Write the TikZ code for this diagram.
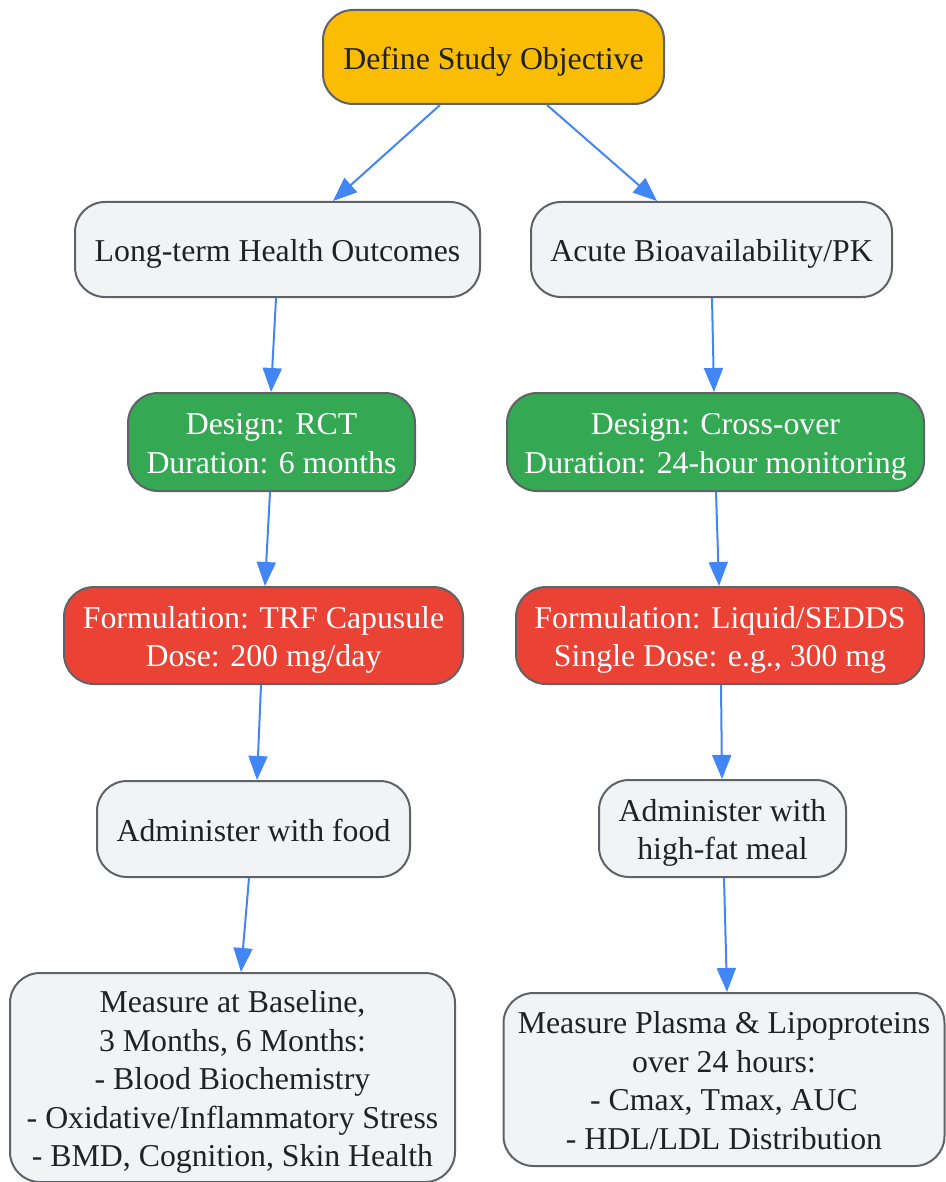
\documentclass[tikz,border=0pt]{standalone}
\usepackage{fontspec}
\setmainfont{Liberation Serif}
\usetikzlibrary{arrows.meta}
\definecolor{gold}{HTML}{FBBC04}
\definecolor{ggreen}{HTML}{34A853}
\definecolor{gred}{HTML}{EA4335}
\definecolor{glight}{HTML}{F1F3F4}
\definecolor{gborder}{HTML}{5F6368}
\definecolor{gblue}{HTML}{4285F4}
\definecolor{gtext}{HTML}{202124}
\newcommand{\boxtext}[1]{\raisebox{-4.5pt}[\height][\depth]{\begin{tabular}{@{}c@{}}#1\end{tabular}}}
\tikzset{
  box/.style={draw=gborder, line width=2pt, rounded corners=30pt, inner sep=0pt,
    align=center, text=gtext, font=\fontsize{31.8pt}{38.5pt}\selectfont},
  lightbox/.style={box, fill=glight},
  goldbox/.style={box, fill=gold},
  greenbox/.style={box, fill=ggreen, text=white},
  redbox/.style={box, fill=gred, text=white},
  arr/.style={draw=gblue, line width=2pt, -{Triangle[length=24pt,width=19pt]}}
}
\begin{document}
\begin{tikzpicture}[x=1pt,y=-1pt]
\useasboundingbox (0,0) rectangle (945,1182);
\node[goldbox, minimum width=341pt, minimum height=94pt] (define) at (493.5,57) {\boxtext{Define Study Objective}};
\node[lightbox, minimum width=405pt, minimum height=95pt] (long) at (277.5,249.5) {\boxtext{Long-term Health Outcomes}};
\node[lightbox, minimum width=361pt, minimum height=95pt] (acute) at (711.5,249.5) {\boxtext{Acute Bioavailability/PK}};
\node[greenbox, minimum width=287pt, minimum height=98pt] (rct) at (271.5,442) {\boxtext{Design: RCT\\Duration: 6 months}};
\node[greenbox, minimum width=417pt, minimum height=98pt] (cross) at (715.5,442) {\boxtext{Design: Cross-over\\Duration: 24-hour monitoring}};
\node[redbox, minimum width=399pt, minimum height=97pt] (trf) at (263.5,635.5) {\boxtext{Formulation: TRF Capusule\\Dose: 200 mg/day}};
\node[redbox, minimum width=408pt, minimum height=97pt] (liquid) at (720,635.5) {\boxtext{Formulation: Liquid/SEDDS\\Single Dose: e.g., 300 mg}};
\node[lightbox, minimum width=313pt, minimum height=96pt] (food) at (253.5,829) {\boxtext{Administer with food}};
\node[lightbox, minimum width=247pt, minimum height=97pt] (fat) at (722.5,828.5) {\boxtext{Administer with\\high-fat meal}};
\node[lightbox, minimum width=445pt, minimum height=209pt] (baseline) at (232.5,1077.5) {\boxtext{Measure at Baseline,\\3 Months, 6 Months:\\- Blood Biochemistry\\- Oxidative/Inflammatory Stress\\- BMD, Cognition, Skin Health}};
\node[lightbox, minimum width=441pt, minimum height=173pt] (plasma) at (724,1079.5) {\boxtext{Measure Plasma \& Lipoproteins\\over 24 hours:\\- Cmax, Tmax, AUC\\- HDL/LDL Distribution}};
\draw[arr] ([xshift=-53.5pt]define.south) -- ([xshift=55.5pt]long.north);
\draw[arr] ([xshift=53.5pt]define.south) -- ([xshift=-54.5pt]acute.north);
\draw[arr] ([xshift=-1.5pt]long.south) -- ([xshift=-0.5pt]rct.north);
\draw[arr] ([xshift=0.5pt]acute.south) -- ([xshift=-1.5pt]cross.north);
\draw[arr] ([xshift=-1.5pt]rct.south) -- ([xshift=1.5pt]trf.north);
\draw[arr] ([xshift=0.5pt]cross.south) -- ([xshift=-1pt]liquid.north);
\draw[arr] ([xshift=-2.5pt]trf.south) -- ([xshift=3.5pt]food.north);
\draw[arr] ([xshift=1pt]liquid.south) -- ([xshift=-0.5pt]fat.north);
\draw[arr] ([xshift=-4.5pt]food.south) -- ([xshift=8.5pt]baseline.north);
\draw[arr] ([xshift=1.5pt]fat.south) -- ([xshift=3pt]plasma.north);
\end{tikzpicture}
\end{document}
